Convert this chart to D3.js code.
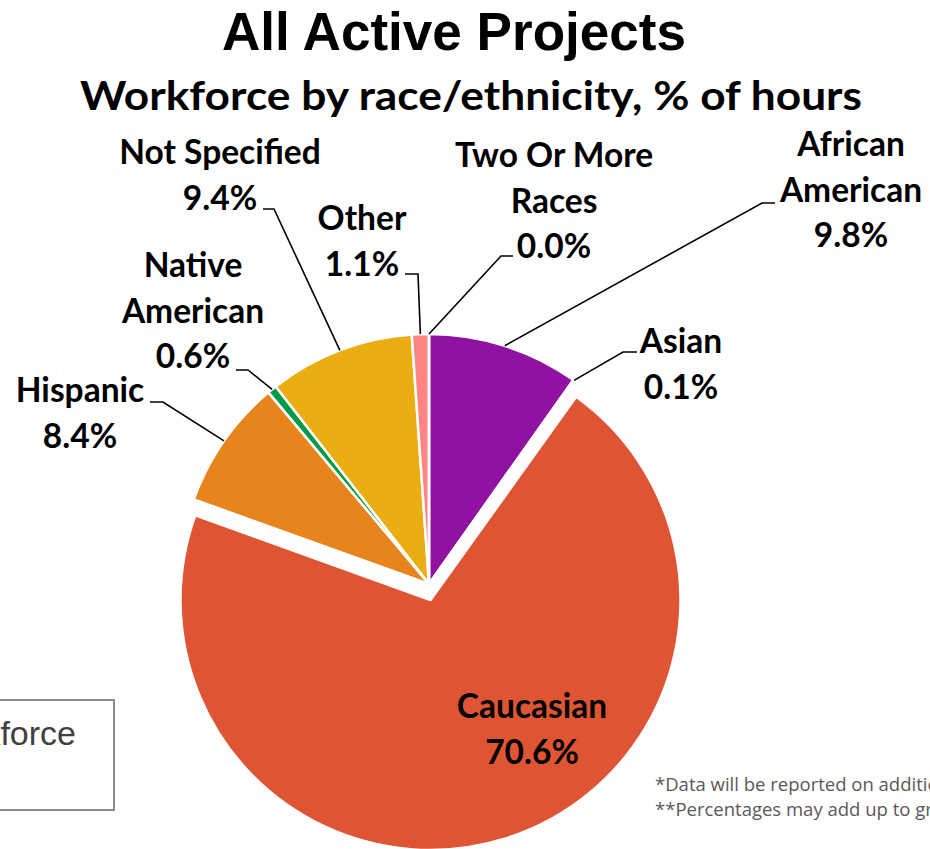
<!DOCTYPE html>
<html>
<head>
<meta charset="utf-8">
<script src="https://cdnjs.cloudflare.com/ajax/libs/d3/7.8.5/d3.min.js"></script>
<style>
  html, body { margin: 0; padding: 0; background: #fff; }
  svg { display: block; }
</style>
</head>
<body>
<script>
// ---- data ----
const categories = ["African American", "Asian", "Caucasian", "Hispanic", "Native American", "Not Specified", "Other", "Two Or More Races"];
const values = [9.8, 0.1, 70.6, 8.4, 0.6, 9.4, 1.1, 0.0];
const valueLabels = ["9.8%", "0.1%", "70.6%", "8.4%", "0.6%", "9.4%", "1.1%", "0.0%"];
const labelLines = [
  ["African", "American", "9.8%"],
  ["Asian", "0.1%"],
  ["Caucasian", "70.6%"],
  ["Hispanic", "8.4%"],
  ["Native", "American", "0.6%"],
  ["Not Specified", "9.4%"],
  ["Other", "1.1%"],
  ["Two Or More", "Races", "0.0%"]
];
const colors = ["#9111A3", "#EBA414", "#DF5534", "#E8841C", "#009B48", "#EAAE13", "#FF8585", "#7F7F7F"];

// ---- layout (positions only) ----
const W = 930, H = 849;
const cx = 429, cy = 584, R = 250;
const explode = {2: [1.5, 16]};
const labelLayout = [
  {x: 851, y: 156, pts: [[775, 203], [762, 203]]},
  {x: 681, y: 353, pts: [[637, 352], [623, 352]]},
  {x: 532, y: 718, pts: null},
  {x: 80,  y: 402, pts: [[150, 402], [163, 402]]},
  {x: 193, y: 277, pts: [[236, 370], [248, 370]]},
  {x: 220, y: 164, pts: [[263, 209], [274, 209]]},
  {x: 362, y: 230, pts: [[405, 274], [418, 274]]},
  {x: 554, y: 167, pts: [[513, 256], [501, 256]]}
];
const lineH = 45.5;
const labelFont = "Lato, 'Noto Sans', sans-serif";
const labelSize = 33.5;

const svg = d3.select("body").append("svg").attr("width", W).attr("height", H);

// titles
svg.append("text").attr("x", 454).attr("y", 50).attr("text-anchor", "middle")
  .attr("font-family", "'Liberation Sans', Arial, sans-serif").attr("font-weight", "bold")
  .attr("font-size", 53).attr("fill", "#000")
  .attr("textLength", 464).attr("lengthAdjust", "spacingAndGlyphs")
  .text("All Active Projects");
svg.append("text").attr("x", 471).attr("y", 110).attr("text-anchor", "middle")
  .attr("font-family", labelFont).attr("font-weight", "bold")
  .attr("font-size", 41).attr("fill", "#000")
  .attr("textLength", 782).attr("lengthAdjust", "spacingAndGlyphs")
  .text("Workforce by race/ethnicity, % of hours");

// left box (partially off-canvas)
svg.append("rect").attr("x", -20).attr("y", 700).attr("width", 134).attr("height", 110)
  .attr("fill", "#fff").attr("stroke", "#8c8c8c").attr("stroke-width", 2);
svg.append("text").attr("x", 76).attr("y", 745).attr("text-anchor", "end")
  .attr("font-family", "'Liberation Sans', Arial, sans-serif").attr("font-size", 34)
  .attr("fill", "#404040").text("Workforce");

// pie
const pie = d3.pie().sort(null).value(d => d)(values);
const arc = d3.arc().innerRadius(0).outerRadius(R);
const g = svg.append("g").attr("transform", `translate(${cx},${cy})`);

g.selectAll("path.slice").data(pie).join("path")
  .attr("class", "slice")
  .attr("d", arc)
  .attr("transform", (d, i) => explode[i] ? `translate(${explode[i][0]},${explode[i][1]})` : null)
  .attr("fill", (d, i) => colors[i])
  .attr("stroke", "#fff").attr("stroke-width", 2.5).attr("stroke-linejoin", "round");

// leader lines
pie.forEach((d, i) => {
  const L = labelLayout[i];
  if (!L.pts) return;
  const mid = (d.startAngle + d.endAngle) / 2;
  const ex = cx + R * Math.sin(mid), ey = cy - R * Math.cos(mid);
  const pts = [...L.pts, [ex, ey]];
  svg.append("path").attr("d", d3.line()(pts))
    .attr("fill", "none").attr("stroke", "#000").attr("stroke-width", 1.6);
});

// labels
labelLayout.forEach((L, i) => {
  const t = svg.append("text").attr("text-anchor", "middle")
    .attr("font-family", labelFont).attr("font-weight", "bold")
    .attr("font-size", labelSize).attr("fill", "#000");
  labelLines[i].forEach((s, k) => {
    t.append("tspan").attr("x", L.x).attr("y", L.y + k * lineH).text(s);
  });
});

// footnotes
const notes = ["*Data will be reported on additional projects as they begin",
               "**Percentages may add up to greater than 100% due to rounding"];
notes.forEach((s, k) => {
  svg.append("text").attr("x", 655).attr("y", 791 + k * 25)
    .attr("font-family", "'Open Sans', sans-serif").attr("font-size", 18.5)
    .attr("fill", "#595959").text(s);
});
</script>
</body>
</html>
